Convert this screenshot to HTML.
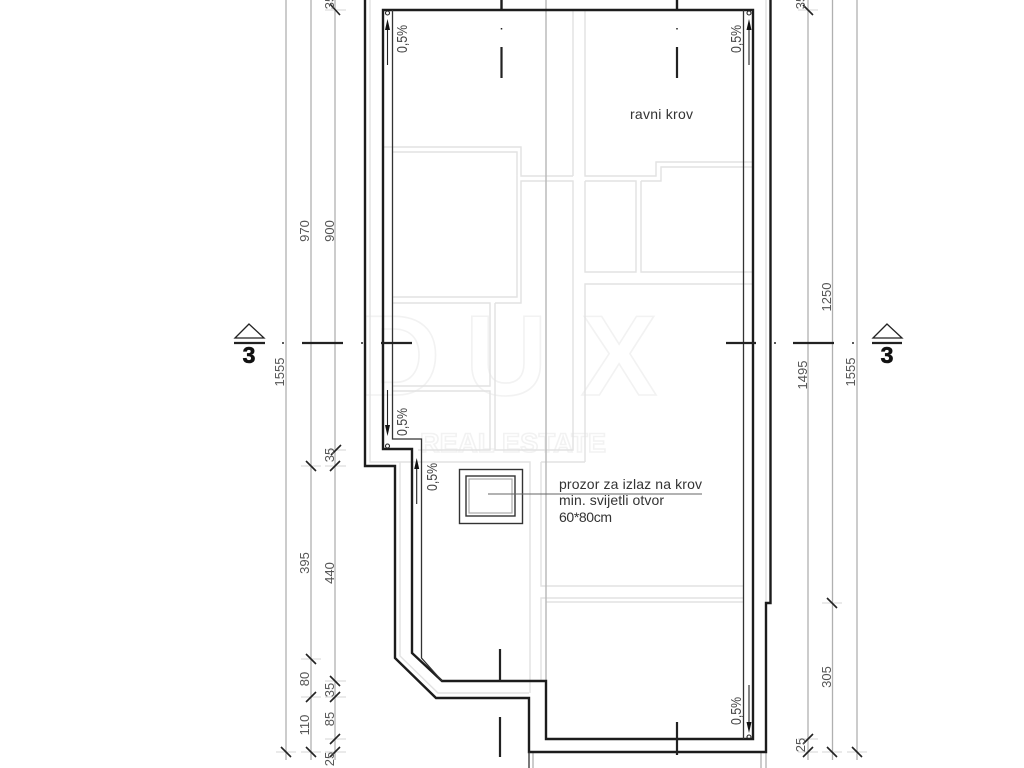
<!DOCTYPE html>
<html><head><meta charset="utf-8"><style>
html,body{margin:0;padding:0;background:#fff;width:1024px;height:768px;overflow:hidden}
svg{display:block;filter:blur(.35px)}
text{font-family:"Liberation Sans",sans-serif}
.d{font-size:13px;fill:#555;text-anchor:middle}
.l{font-size:14px;fill:#333}
.p{font-size:15px;fill:#444;text-anchor:middle}
.t{font-size:23px;font-weight:bold;fill:#111;stroke:#111;stroke-width:.6;text-anchor:middle}
</style></head><body>
<svg width="1024" height="768" viewBox="0 0 1024 768" xmlns="http://www.w3.org/2000/svg">
<!-- watermark -->
<g fill="none" stroke="#f2f2f2" stroke-width="1.6">
<text x="358" y="395" font-size="114" font-weight="bold" style="font-family:'Liberation Sans',sans-serif">D</text>
<text x="465" y="395" font-size="114" font-weight="bold" style="font-family:'Liberation Sans',sans-serif">U</text>
<text x="581" y="395" font-size="114" font-weight="bold" style="font-family:'Liberation Sans',sans-serif">X</text>
<text x="420" y="452" font-size="27" font-weight="bold" textLength="186" style="font-family:'Liberation Sans',sans-serif">REAL ESTATE</text>
</g>
<!-- light plan lines -->
<g fill="none" stroke="#e2e2e2" stroke-width="1.4">
<path d="M384 147H521V176H573M392 152H517V297H392M392 303H490V386H392M392 391H490V450H418M495 303H521V181H573V450H495V303"/>
<path d="M573 10V176M585 10V176H656V162H753M585 181H636V272H585V181M641 181H661V167H753M641 181V272H753M585 462V284H753"/>
<path d="M370 0V462H400V656L438 693H529M400 462H530V693M541 462H585M541 462V586H743M541 681V598H743M546 602H743M766 0V603"/>
</g>
<g fill="none" stroke="#bbb" stroke-width="1.5">
<path d="M546 0V681"/>
<path d="M533 752V768M761 752V768M766 752V768"/>
</g>
<!-- dimension lines -->
<g stroke="#b0b0b0" stroke-width="1.3" fill="none">
<path d="M286 0V760M311 0V760M335 0V760M808 0V760M832.500 0V760M857 0V760"/>
<path stroke="#ddd" d="M325 10H346M325 450H346M301 466H321M325 466H346M301 659H321M325 681H346M301 697H321M325 697H346M325 739H346M276 752H296M301 752H321M325 752H346M798 10H818M798 739H818M798 752H818M822 603H842M822 752H842M847 752H867"/>
</g>
<!-- ticks -->
<g stroke="#222" stroke-width="1.6" fill="none">
<path d="M330 4L340 15M331 455L341 445M306 461L316 471M330 471L340 461M306 654L316 664M330 676L340 686M306 702L316 692M330 702L340 692M330 744L340 734M281 747L291 757M306 747L316 757M330 757L340 747"/>
<path d="M803 744L813 734M803 757L813 747M827 598L837 608M827 747L837 757M852 747L862 757M803 5L813 15"/>
</g>
<!-- walls -->
<g fill="none" stroke="#1c1c1c" stroke-width="2.400">
<path d="M365 0V466H395V658L436 698H529V752H766V603H770.500V0"/>
<path d="M383 10H753V739H546V681H442L412 653V449H383Z"/>
<path d="M501.500 0V10M677 0V10"/>
</g>
<g fill="none" stroke="#333" stroke-width="1.300">
<path d="M392.500 10V439H421.500V658L442 681"/>
<path d="M743.500 10V739"/>
<path d="M529 752V768"/>
</g>
<!-- axis marks -->
<g stroke="#222" stroke-width="2.200" fill="none">
<path d="M501.500 47V78M677 47V78M500 649V681M500 717V757M677 722V755"/>
<path d="M302 343H343M381 343H412M726 343H756M793 343H834"/>
<path d="M501.500 28v1.500M677 28v1.500M283 342v2M362 342v2M775 342v2M853 342v2" stroke-width="1.5"/>
</g>
<!-- section markers -->
<g fill="none" stroke="#222" stroke-width="1.300">
<path d="M249 324L235 338H264Z"/>
<path d="M887 324L873 338H902Z"/>
</g>
<path d="M234 343H265M872 343H902" stroke="#222" stroke-width="2.200" fill="none"/>
<text class="t" x="249" y="363">3</text>
<text class="t" x="887" y="363">3</text>
<!-- slope arrows -->
<g stroke="#222" stroke-width="1.100" fill="none">
<path d="M387.500 24V65M749 24V65M387.500 390V430M416.700 464V504M749 685V728"/>
<circle cx="387.500" cy="13" r="2"/><circle cx="749" cy="13" r="2"/>
<circle cx="387.500" cy="446" r="2"/><circle cx="749" cy="737" r="2"/>
</g>
<g fill="#111">
<path d="M387.500 19l-2.500 11h5z"/><path d="M749 19l-2.500 11h5z"/>
<path d="M387.500 436l-2.500 -11h5z"/><path d="M416.700 458l-2.500 11h5z"/>
<path d="M749 733l-2.500 -11h5z"/>
</g>
<text class="p" transform="translate(407,39) rotate(-90)" textLength="28" lengthAdjust="spacingAndGlyphs" x="0">0,5%</text>
<text class="p" transform="translate(741,39) rotate(-90)" textLength="28" lengthAdjust="spacingAndGlyphs">0,5%</text>
<text class="p" transform="translate(407,422) rotate(-90)" textLength="28" lengthAdjust="spacingAndGlyphs">0,5%</text>
<text class="p" transform="translate(437,477) rotate(-90)" textLength="28" lengthAdjust="spacingAndGlyphs">0,5%</text>
<text class="p" transform="translate(741,711) rotate(-90)" textLength="28" lengthAdjust="spacingAndGlyphs">0,5%</text>
<!-- roof window -->
<g fill="none">
<rect x="459.500" y="469.500" width="63" height="54" stroke="#333" stroke-width="1.4"/>
<rect x="466" y="476" width="49" height="40" stroke="#333" stroke-width="1.4"/>
<rect x="469" y="479" width="43" height="34" stroke="#aaa" stroke-width="1.2"/>
<path d="M488 494H702" stroke="#666" stroke-width="1"/>
</g>
<!-- labels -->
<text class="l" x="630" y="119" textLength="63">ravni krov</text>
<text class="l" x="559" y="489" textLength="143">prozor za izlaz na krov</text>
<text class="l" x="559" y="505" textLength="105">min. svijetli otvor</text>
<text class="l" x="559" y="522" textLength="53">60*80cm</text>
<!-- dimensions left -->
<text class="d" transform="translate(309,231) rotate(-90)">970</text>
<text class="d" transform="translate(334,231) rotate(-90)">900</text>
<text class="d" transform="translate(284,372) rotate(-90)">1555</text>
<text class="d" transform="translate(334,2) rotate(-90)">35</text>
<text class="d" transform="translate(334,455) rotate(-90)">35</text>
<text class="d" transform="translate(309,563) rotate(-90)">395</text>
<text class="d" transform="translate(334,573) rotate(-90)">440</text>
<text class="d" transform="translate(309,679) rotate(-90)">80</text>
<text class="d" transform="translate(334,690) rotate(-90)">35</text>
<text class="d" transform="translate(309,725) rotate(-90)">110</text>
<text class="d" transform="translate(334,719) rotate(-90)">85</text>
<text class="d" transform="translate(334,759) rotate(-90)">25</text>
<!-- dimensions right -->
<text class="d" transform="translate(805,2) rotate(-90)">35</text>
<text class="d" transform="translate(831,297) rotate(-90)">1250</text>
<text class="d" transform="translate(807,375) rotate(-90)">1495</text>
<text class="d" transform="translate(855,372) rotate(-90)">1555</text>
<text class="d" transform="translate(831,677) rotate(-90)">305</text>
<text class="d" transform="translate(805,745) rotate(-90)">25</text>
</svg>
</body></html>
